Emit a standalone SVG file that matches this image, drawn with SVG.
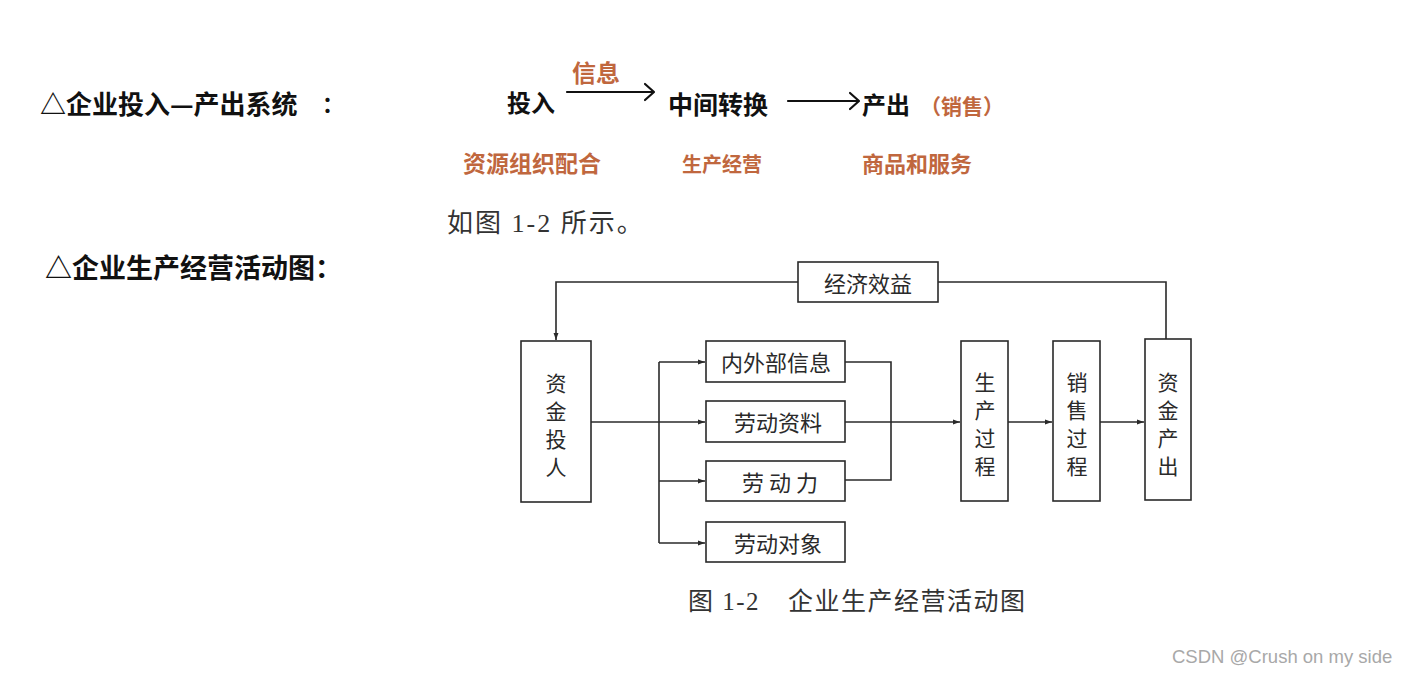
<svg xmlns="http://www.w3.org/2000/svg" width="1408" height="676" viewBox="0 0 1408 676">
<defs>
<style>
.hw{font-family:"Noto Sans CJK SC","Noto Sans",sans-serif;font-weight:700;fill:#111;}
.or{font-family:"Noto Sans CJK SC","Noto Sans",sans-serif;font-weight:700;fill:#c0673e;}
.bx{fill:#fff;stroke:#2a2a2a;stroke-width:1.6;}
.bt{font-family:"Noto Sans CJK SC","Noto Sans",sans-serif;font-size:22px;fill:#2a2a2a;text-anchor:middle;dominant-baseline:central;}
.vt{font-family:"Noto Sans CJK SC","Noto Sans",sans-serif;font-size:21px;fill:#2a2a2a;text-anchor:middle;dominant-baseline:central;}
.ln{fill:none;stroke:#2a2a2a;stroke-width:1.6;}
.hl{fill:none;stroke:#111;stroke-width:2.2;stroke-linecap:round;stroke-linejoin:round;}
.cap{font-family:"Liberation Serif","Noto Sans CJK SC",serif;fill:#333;}
</style>
<marker id="ah" viewBox="0 0 10 10" refX="10" refY="5" markerWidth="7" markerHeight="7" orient="auto" markerUnits="userSpaceOnUse">
<path d="M0,1.5 L10,5 L0,8.5 Z" fill="#2a2a2a"/>
</marker>
</defs>
<rect width="1408" height="676" fill="#fff"/>

<!-- handwritten notes -->
<g id="note1">
<text class="hw" x="40" y="114" font-size="26">△企业投入—产出系统</text>
<text class="hw" x="322" y="112" font-size="22">：</text>
</g>
<g id="note2">
<text class="hw" x="45" y="278" font-size="27">△企业生产经营活动图：</text>
</g>
<g id="flow-top">
<text class="hw" x="507" y="112" font-size="24">投入</text>
<text class="or" x="572" y="82" font-size="24">信息</text>
<text class="hw" x="668" y="114" font-size="25">中间转换</text>
<text class="hw" x="862" y="114" font-size="24">产出</text>
<text class="or" x="920" y="114" font-size="21">（销售）</text>
<text class="or" x="463" y="172" font-size="23">资源组织配合</text>
<text class="or" x="682" y="172" font-size="20">生产经营</text>
<text class="or" x="862" y="172" font-size="22">商品和服务</text>
<path class="hl" d="M567,92 L653,92 M645,84 L654,92 L645,100"/>
<path class="hl" d="M788,101 L858,101 M850,93 L859,101 L850,109"/>
</g>

<text class="cap" x="447" y="232" font-size="26" letter-spacing="2">如图 1-2 所示。</text>

<!-- connectors -->
<g id="connectors">
<path class="ln" d="M798,282 L556,282 L556,340" marker-end="url(#ah)"/>
<path class="ln" d="M1166,339 L1166,282 L938,282"/>
<path class="ln" d="M591,422 L705,422" marker-end="url(#ah)"/>
<path class="ln" d="M659,362 L659,543"/>
<path class="ln" d="M659,362 L705,362" marker-end="url(#ah)"/>
<path class="ln" d="M659,481 L705,481" marker-end="url(#ah)"/>
<path class="ln" d="M659,543 L705,543" marker-end="url(#ah)"/>
<path class="ln" d="M845,362 L891,362 L891,480 L845,480"/>
<path class="ln" d="M845,422 L960,422" marker-end="url(#ah)"/>
<path class="ln" d="M1008,422 L1052,422" marker-end="url(#ah)"/>
<path class="ln" d="M1100,422 L1144,422" marker-end="url(#ah)"/>
</g>

<g id="n-jjxy"><rect class="bx" x="798" y="262" width="140" height="40"/><text class="bt" x="868" y="282">经济效益</text></g>
<g id="n-zjtr"><rect class="bx" x="521" y="341" width="70" height="161"/>
<text class="vt" x="556" y="382">资</text><text class="vt" x="556" y="410">金</text><text class="vt" x="556" y="438">投</text><text class="vt" x="556" y="466">人</text></g>
<g id="n-nwbxx"><rect class="bx" x="706" y="341" width="139" height="41"/><text class="bt" x="776" y="361">内外部信息</text></g>
<g id="n-ldzl"><rect class="bx" x="706" y="401" width="139" height="41"/><text class="bt" x="778" y="421">劳动资料</text></g>
<g id="n-ldl"><rect class="bx" x="706" y="461" width="139" height="40"/><text class="bt" x="780" y="481">劳 动 力</text></g>
<g id="n-lddx"><rect class="bx" x="706" y="522" width="139" height="40"/><text class="bt" x="778" y="542">劳动对象</text></g>
<g id="n-scgc"><rect class="bx" x="961" y="341" width="47" height="160"/>
<text class="vt" x="985" y="381">生</text><text class="vt" x="985" y="409">产</text><text class="vt" x="985" y="437">过</text><text class="vt" x="985" y="465">程</text></g>
<g id="n-xsgc"><rect class="bx" x="1053" y="341" width="47" height="160"/>
<text class="vt" x="1077" y="381">销</text><text class="vt" x="1077" y="409">售</text><text class="vt" x="1077" y="437">过</text><text class="vt" x="1077" y="465">程</text></g>
<g id="n-zjcc"><rect class="bx" x="1145" y="339" width="46" height="161"/>
<text class="vt" x="1168" y="381">资</text><text class="vt" x="1168" y="409">金</text><text class="vt" x="1168" y="437">产</text><text class="vt" x="1168" y="465">出</text></g>

<text class="cap" x="688" y="610" font-size="25" letter-spacing="1.5">图 1-2<tspan dx="28">企业生产经营活动图</tspan></text>

<text x="1172" y="663" font-family="Liberation Sans,Arial,sans-serif" font-size="18.5" fill="#a8a8a8">CSDN @Crush on my side</text>
</svg>
